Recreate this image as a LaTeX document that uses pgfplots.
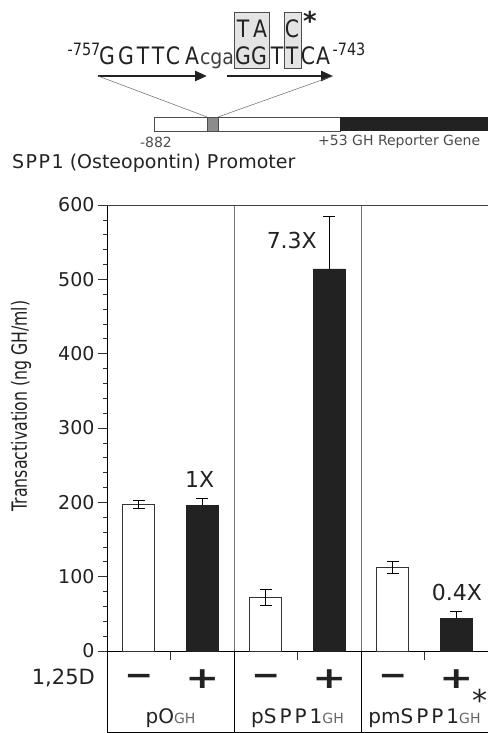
\documentclass[border=0pt]{standalone}
\usepackage{fontspec}
\setmainfont{DejaVu Sans}
\usepackage{graphicx}
\usepackage{pgfplots}
\pgfplotsset{compat=1.18}
\usetikzlibrary{arrows.meta}
\definecolor{barblack}{HTML}{222222}
\definecolor{txt}{HTML}{222222}
\definecolor{boxgray}{HTML}{E4E4E4}
\newcommand{\fs}[1]{\fontsize{#1}{#1}\selectfont}
\newcommand{\sq}[1]{\scalebox{0.85}[1]{\fs{24}#1}}
\begin{document}
\begin{tikzpicture}[x=1pt,y=1pt,t/.style={inner sep=0pt,text=txt}]
\useasboundingbox (0,0) rectangle (487,733);
% ---------------- top diagram ----------------
\fill[boxgray,draw=black!70,line width=0.5pt] (234,665) rectangle (269,721);
\fill[boxgray,draw=black!70,line width=0.5pt] (284,665) rectangle (301,721);
\foreach \x/\l in {107/G,126/G,143/T,158/T,173/C,192/A,243/G,259/G,277/T,292/T,308/C,323/A}
  \node[t,anchor=base] at (\x,668) {\sq{\l}};
\node[t,anchor=base,text=black!75] at (217,668) {\scalebox{0.9}[1]{\fs{21}cga}};
\foreach \x/\l in {243/T,260/A,292/C}
  \node[t,anchor=base] at (\x,695) {\sq{\l}};
\node[t] at (84,684) {\scalebox{0.85}[1]{\fs{17}-757}};
\node[t] at (349,684) {\scalebox{0.85}[1]{\fs{17}-743}};
\node[t] at (310,712) {\fs{26}\bfseries *};
\draw[barblack,line width=2.6pt,-{Triangle[length=12pt,width=10pt]}] (98,657) -- (207,657);
\draw[barblack,line width=2.6pt,-{Triangle[length=12pt,width=10pt]}] (227,657) -- (333,657);
\draw[black!60,line width=0.5pt] (98,657) -- (207,616);
\draw[black!60,line width=0.5pt] (333,657) -- (218,616);
\draw[black!70,line width=0.6pt,fill=white] (154,602) rectangle (340,616);
\fill[barblack] (340,602) rectangle (492,616);
\draw[black!70,line width=0.5pt,fill=black!45] (207,602) rectangle (218,616);
\node[t,text=black!70] at (156,591) {\fs{14}-882};
\node[t,anchor=west,text=black!70] at (318,591) {\fs{14}+53 GH Reporter Gene};
\node[t,anchor=west] at (12,570) {\fs{19}S\kern1.5pt P\kern1.5pt P\kern1.5pt 1 (Osteopontin) P\kern1pt romoter};
% ---------------- y label ----------------
\node[t,rotate=90] at (21,327) {\scalebox{0.75}[1]{\fs{21}Transactivation (ng GH/ml)}};
\node[t,anchor=east] at (95,55) {\fs{21}1,25D};
% ---------------- chart ----------------
\begin{axis}[
  at={(107pt,82pt)}, anchor=south west,
  scale only axis, width=381pt, height=446pt,
  xmin=0, xmax=6, ymin=0, ymax=600,
  axis x line*=bottom, axis y line*=left,
  axis line style={black, line width=0.8pt},
  clip=false,
  xtick={1,3,5}, xticklabels={},
  ytick={0,100,...,600},
  minor y tick num=4,
  tick align=outside,
  major tick length=9pt, minor tick length=4pt,
  tick style={black!80, line width=0.6pt},
  /pgf/number format/assume math mode=true,
  yticklabel style={font=\fs{19}, text=txt},
]
\draw[black!55, line width=0.8pt] (axis cs:2,0) -- (axis cs:2,600);
\draw[black!55, line width=0.8pt] (axis cs:4,0) -- (axis cs:4,600);
\draw[black!75, line width=0.8pt] (axis cs:0,600) -- (axis cs:6,600);
\draw[black, line width=0.8pt] (axis cs:0,0) -- (axis cs:0,-109) -- (axis cs:6,-109);
\draw[black, line width=0.8pt] (axis cs:2,0) -- (axis cs:2,-109);
\draw[black, line width=0.8pt] (axis cs:4,0) -- (axis cs:4,-109);
\addplot[ybar, bar width=32pt, bar shift=0pt, draw=black!80, fill=white, line width=0.6pt,
  error bars/.cd, y dir=both, y explicit,
  error bar style={black, line width=0.8pt},
  error mark options={rotate=90, black, mark size=6pt, line width=0.8pt}]
  coordinates {(0.5,197) +- (0,5) (2.5,72) +- (0,11) (4.5,113) +- (0,8)};
\addplot[ybar, bar width=32pt, bar shift=0pt, draw=barblack, fill=barblack, line width=0.6pt,
  error bars/.cd, y dir=plus, y explicit,
  error bar style={black, line width=0.8pt},
  error mark options={rotate=90, black, mark size=6pt, line width=0.8pt}]
  coordinates {(1.5,196) +- (0,9) (3.5,514) +- (0,70) (5.5,44) +- (0,9)};
\node[t] at (axis cs:1.46,231) {\fs{22}1X};
\node[t] at (axis cs:2.91,552) {\fs{22}7.3X};
\node[t] at (axis cs:5.51,79) {\fs{22}0.4X};
\node[t] at (axis cs:0.5,-39) {\scalebox{1.15}[1]{\fs{30}\bfseries −}};
\node[t] at (axis cs:2.5,-39) {\scalebox{1.15}[1]{\fs{30}\bfseries −}};
\node[t] at (axis cs:4.5,-39) {\scalebox{1.15}[1]{\fs{30}\bfseries −}};
\node[t] at (axis cs:1.5,-38) {\scalebox{1.35}[1]{\fs{30}\bfseries +}};
\node[t] at (axis cs:3.5,-38) {\scalebox{1.35}[1]{\fs{30}\bfseries +}};
\node[t] at (axis cs:5.5,-38) {\scalebox{1.35}[1]{\fs{30}\bfseries +}};
\node[t,anchor=base] at (axis cs:1,-97) {\fs{20}pO\textcolor{black!60}{\fs{14}GH}};
\node[t,anchor=base] at (axis cs:3,-97) {\fs{20}pS\kern3pt P\kern3pt P\kern3pt 1\textcolor{black!60}{\fs{14}GH}};
\node[t,anchor=base] at (axis cs:5,-97) {\fs{20}pmS\kern3pt P\kern3pt P\kern3pt 1\textcolor{black!60}{\fs{14}GH}};
\node[t] at (axis cs:5.87,-67) {\fs{30}*};
\end{axis}
\end{tikzpicture}
\end{document}
